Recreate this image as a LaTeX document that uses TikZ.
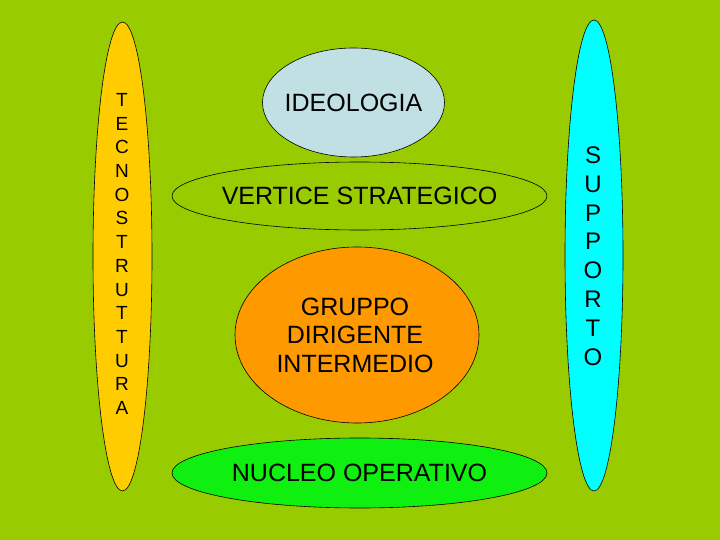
\documentclass[tikz,border=0pt]{standalone}
\usepackage{fontspec}
\setmainfont{Liberation Sans}
\usetikzlibrary{shapes.geometric}

\definecolor{sfondo}{RGB}{153,204,0}
\definecolor{giallo}{RGB}{255,204,0}
\definecolor{azzurro}{RGB}{192,224,228}
\definecolor{arancio}{RGB}{255,153,0}
\definecolor{verde}{RGB}{16,240,16}
\definecolor{ciano}{RGB}{0,255,255}

\tikzset{
  blob/.style={ellipse,draw=black,line width=0.6pt,inner sep=0pt},
  scritta/.style={font=\fontsize{25}{28.5}\selectfont,align=center,inner sep=0pt},
  colonna/.style={align=center,inner sep=0pt}
}

\begin{document}
\begin{tikzpicture}[x=1pt,y=-1pt]

%SFONDO
\fill[sfondo] (0,0) rectangle (720,540);
\useasboundingbox (0,0) rectangle (720,540);

%COLONNE LATERALI
% sinistra
\node[blob,fill=giallo,minimum width=59pt,minimum height=469pt] (tecno) at (122.5,256.5) {};
\node[colonna,font=\fontsize{19}{23.7}\selectfont] (tecnotxt) at (122,254)
  {T\\E\\C\\N\\O\\S\\T\\R\\U\\T\\T\\U\\R\\A};
% destra
\node[blob,fill=ciano,minimum width=58pt,minimum height=471pt] (supporto) at (594,255.5) {};
\node[colonna,font=\fontsize{24}{28.8}\selectfont] (supportotxt) at (593,256)
  {S\\U\\P\\P\\O\\R\\T\\O};

%PARTI CENTRALI
\node[blob,fill=azzurro,minimum width=182pt,minimum height=109pt] (ideologia) at (353.5,102.5) {};
\node[scritta] (ideologiatxt) at (ideologia) {IDEOLOGIA};

\node[blob,minimum width=375pt,minimum height=68pt] (vertice) at (359.5,196) {};
\node[scritta] (verticetxt) at (vertice) {VERTICE STRATEGICO};

\node[blob,fill=arancio,minimum width=244pt,minimum height=176pt] (gruppo) at (357,335) {};
\node[scritta] (gruppotxt) at (355,335) {GRUPPO\\DIRIGENTE\\INTERMEDIO};

\node[blob,fill=verde,minimum width=375pt,minimum height=70pt] (nucleo) at (359.5,473) {};
\node[scritta] (nucleotxt) at (nucleo) {NUCLEO OPERATIVO};

\end{tikzpicture}
\end{document}
